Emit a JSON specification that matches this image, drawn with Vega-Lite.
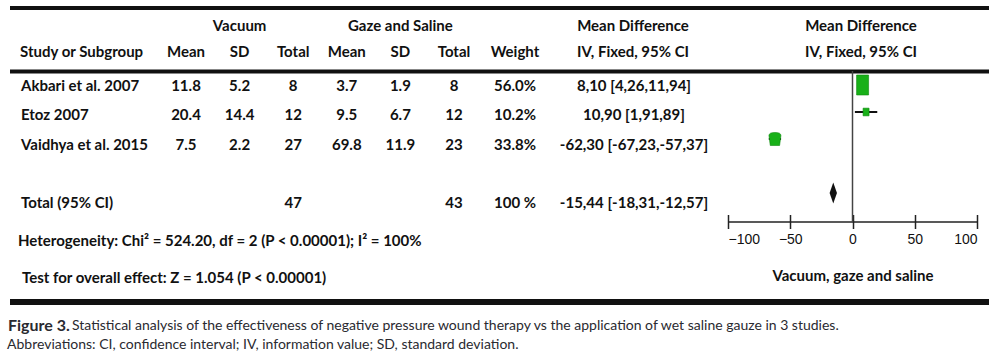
{
  "$schema": "https://vega.github.io/schema/vega-lite/v6.json",
  "width": 979,
  "height": 358,
  "autosize": {"type": "none"},
  "padding": {"left": 10, "right": 9, "top": 0, "bottom": 0},
  "background": "white",
  "config": {
    "view": {"stroke": null},
    "text": {"font": "Lato", "fontSize": 15, "fontWeight": "bold", "color": "#111111", "baseline": "middle"}
  },
  "datasets": {
    "rows": [
      {"study": "Akbari et al. 2007", "vac_mean": 11.8, "vac_sd": 5.2, "vac_n": 8, "gz_mean": 3.7, "gz_sd": 1.9, "gz_n": 8, "weight": 56.0, "weight_label": "56.0%", "md": 8.10, "lo": 4.26, "hi": 11.94, "ci": "8,10 [4,26,11,94]"},
      {"study": "Etoz 2007", "vac_mean": 20.4, "vac_sd": 14.4, "vac_n": 12, "gz_mean": 9.5, "gz_sd": 6.7, "gz_n": 12, "weight": 10.2, "weight_label": "10.2%", "md": 10.90, "lo": 1.91, "hi": 19.89, "ci": "10,90 [1,91,89]"},
      {"study": "Vaidhya et al. 2015", "vac_mean": 7.5, "vac_sd": 2.2, "vac_n": 27, "gz_mean": 69.8, "gz_sd": 11.9, "gz_n": 23, "weight": 33.8, "weight_label": "33.8%", "md": -62.30, "lo": -67.23, "hi": -57.37, "ci": "-62,30 [-67,23,-57,37]"},
      {"study": "Total (95% CI)", "vac_n": 47, "gz_n": 43, "weight": 100, "weight_label": "100 %", "md": -15.44, "lo": -18.31, "hi": -12.57, "ci": "-15,44 [-18,31,-12,57]"}
    ],
    "headers": [
      {"row": "group", "col": "vac_sd", "text": "Vacuum"},
      {"row": "group", "col": "gz_sd", "text": "Gaze and Saline"},
      {"row": "group", "col": "ci", "text": "Mean Difference"},
      {"row": "group", "col": "forest", "text": "Mean Difference"},
      {"row": "column", "col": "study", "text": "Study or Subgroup"},
      {"row": "column", "col": "vac_mean", "text": "Mean"},
      {"row": "column", "col": "vac_sd", "text": "SD"},
      {"row": "column", "col": "vac_n", "text": "Total"},
      {"row": "column", "col": "gz_mean", "text": "Mean"},
      {"row": "column", "col": "gz_sd", "text": "SD"},
      {"row": "column", "col": "gz_n", "text": "Total"},
      {"row": "column", "col": "weight_label", "text": "Weight"},
      {"row": "column", "col": "ci", "text": "IV, Fixed, 95% CI"},
      {"row": "column", "col": "forest", "text": "IV, Fixed, 95% CI"}
    ],
    "notes": [
      {"line": "het", "text": "Heterogeneity: Chi² = 524.20, df = 2 (P < 0.00001); I² = 100%"},
      {"line": "test", "text": "Test for overall effect: Z = 1.054 (P < 0.00001)"}
    ],
    "caption": [
      {"line": "1", "part": "label", "text": "Figure 3."},
      {"line": "1", "part": "body", "text": "Statistical analysis of the effectiveness of negative pressure wound therapy vs the application of wet saline gauze in 3 studies."},
      {"line": "2", "part": "body", "text": "Abbreviations: CI, confidence interval; IV, information value; SD, standard deviation."}
    ],
    "lines": [
      {"line": "top"}, {"line": "header"}, {"line": "bottom"}, {"line": "zero"}
    ]
  },
  "resolve": {"scale": {"x": "independent", "y": "independent", "size": "independent", "shape": "independent"}},
  "layer": [
    {
      "data": {"name": "lines"},
      "transform": [{"filter": {"field": "line", "oneOf": ["top", "header"]}}],
      "mark": {"type": "rule", "strokeWidth": 3.8, "color": "#111111"},
      "encoding": {
        "y": {"field": "line", "type": "nominal", "scale": {"type": "point", "domain": ["top", "header"], "range": [8, 71.5], "padding": 0}, "axis": null}
      }
    },
    {
      "data": {"name": "lines"},
      "transform": [{"filter": {"field": "line", "equal": "bottom"}}],
      "mark": {"type": "rule", "strokeWidth": 6, "color": "#111111"},
      "encoding": {
        "y": {"field": "line", "type": "nominal", "scale": {"type": "point", "domain": ["bottom"], "range": [302, 302], "padding": 0}, "axis": null}
      }
    },
    {
      "data": {"name": "headers"},
      "transform": [{"filter": {"field": "col", "oneOf": ["vac_mean", "vac_sd", "vac_n", "gz_mean", "gz_sd", "gz_n"]}}],
      "mark": {"type": "text"},
      "encoding": {
        "x": {"field": "col", "type": "nominal", "scale": {"type": "point", "domain": ["vac_mean", "vac_sd", "vac_n", "gz_mean", "gz_sd", "gz_n"], "range": [176, 444], "padding": 0}, "axis": null},
        "y": {"field": "row", "type": "nominal", "scale": {"type": "point", "domain": ["group", "column"], "range": [26, 52], "padding": 0}, "axis": null},
        "text": {"field": "text", "type": "nominal"}
      }
    },
    {
      "data": {"name": "headers"},
      "transform": [{"filter": {"field": "col", "oneOf": ["weight_label", "ci"]}}],
      "mark": {"type": "text"},
      "encoding": {
        "x": {"field": "col", "type": "nominal", "scale": {"type": "point", "domain": ["weight_label", "ci"], "range": [505, 623], "padding": 0}, "axis": null},
        "y": {"field": "row", "type": "nominal", "scale": {"type": "point", "domain": ["group", "column"], "range": [26, 52], "padding": 0}, "axis": null},
        "text": {"field": "text", "type": "nominal"}
      }
    },
    {
      "data": {"name": "headers"},
      "transform": [{"filter": {"field": "col", "equal": "forest"}}],
      "mark": {"type": "text"},
      "encoding": {
        "x": {"field": "col", "type": "nominal", "scale": {"type": "point", "domain": ["forest"], "range": [851, 851], "padding": 0}, "axis": null},
        "y": {"field": "row", "type": "nominal", "scale": {"type": "point", "domain": ["group", "column"], "range": [26, 52], "padding": 0}, "axis": null},
        "text": {"field": "text", "type": "nominal"}
      }
    },
    {
      "data": {"name": "headers"},
      "transform": [{"filter": {"field": "col", "equal": "study"}}],
      "mark": {"type": "text", "align": "left"},
      "encoding": {
        "x": {"field": "col", "type": "nominal", "scale": {"type": "point", "domain": ["study"], "range": [10, 10], "padding": 0}, "axis": null},
        "y": {"field": "row", "type": "nominal", "scale": {"type": "point", "domain": ["group", "column"], "range": [26, 52], "padding": 0}, "axis": null},
        "text": {"field": "text", "type": "nominal"}
      }
    },
    {
      "data": {"name": "rows"},
      "transform": [
        {"fold": ["study"], "as": ["key", "value"]}
      ],
      "mark": {"type": "text", "align": "left"},
      "encoding": {
        "x": {"field": "key", "type": "nominal", "scale": {"type": "point", "domain": ["study"], "range": [11, 11], "padding": 0}, "axis": null},
        "y": {"field": "study", "type": "nominal", "scale": {"type": "point", "domain": ["Akbari et al. 2007", "Etoz 2007", "Vaidhya et al. 2015", " ", "Total (95% CI)"], "range": [86, 203], "padding": 0}, "axis": null},
        "text": {"field": "value", "type": "nominal"}
      }
    },
    {
      "data": {"name": "rows"},
      "transform": [
        {"fold": ["vac_mean", "vac_sd", "vac_n", "gz_mean", "gz_sd", "gz_n"], "as": ["key", "value"]},
        {"filter": "isValid(datum.value)"}
      ],
      "mark": {"type": "text"},
      "encoding": {
        "x": {"field": "key", "type": "nominal", "scale": {"type": "point", "domain": ["vac_mean", "vac_sd", "vac_n", "gz_mean", "gz_sd", "gz_n"], "range": [176, 444], "padding": 0}, "axis": null},
        "y": {"field": "study", "type": "nominal", "scale": {"type": "point", "domain": ["Akbari et al. 2007", "Etoz 2007", "Vaidhya et al. 2015", " ", "Total (95% CI)"], "range": [86, 203], "padding": 0}, "axis": null},
        "text": {"field": "value", "type": "nominal"}
      }
    },
    {
      "data": {"name": "rows"},
      "transform": [
        {"fold": ["weight_label", "ci"], "as": ["key", "value"]}
      ],
      "mark": {"type": "text"},
      "encoding": {
        "x": {"field": "key", "type": "nominal", "scale": {"type": "point", "domain": ["weight_label", "ci"], "range": [505, 624], "padding": 0}, "axis": null},
        "y": {"field": "study", "type": "nominal", "scale": {"type": "point", "domain": ["Akbari et al. 2007", "Etoz 2007", "Vaidhya et al. 2015", " ", "Total (95% CI)"], "range": [86, 203], "padding": 0}, "axis": null},
        "text": {"field": "value", "type": "nominal"}
      }
    },
    {
      "data": {"name": "notes"},
      "mark": {"type": "text", "align": "left"},
      "encoding": {
        "x": {"field": "line", "type": "nominal", "scale": {"type": "point", "domain": ["het", "test"], "range": [8, 12], "padding": 0}, "axis": null},
        "y": {"field": "line", "type": "nominal", "scale": {"type": "point", "domain": ["het", "test"], "range": [241, 278], "padding": 0}, "axis": null},
        "text": {"field": "text", "type": "nominal"}
      }
    },
    {
      "data": {"name": "caption"},
      "transform": [{"filter": {"field": "part", "equal": "label"}}],
      "mark": {"type": "text", "align": "left", "fontSize": 16, "fontWeight": "bold", "color": "#2a2a30"},
      "encoding": {
        "x": {"field": "line", "type": "nominal", "scale": {"type": "point", "domain": ["1"], "range": [-2, -2], "padding": 0}, "axis": null},
        "y": {"field": "line", "type": "nominal", "scale": {"type": "point", "domain": ["1", "2"], "range": [326, 345], "padding": 0}, "axis": null},
        "text": {"field": "text", "type": "nominal"}
      }
    },
    {
      "data": {"name": "caption"},
      "transform": [{"filter": {"field": "part", "equal": "body"}}],
      "mark": {"type": "text", "align": "left", "fontSize": 14, "fontWeight": "normal", "color": "#2a2a30"},
      "encoding": {
        "x": {"field": "line", "type": "nominal", "scale": {"type": "point", "domain": ["1", "2"], "range": [62, -3], "padding": 0}, "axis": null},
        "y": {"field": "line", "type": "nominal", "scale": {"type": "point", "domain": ["1", "2"], "range": [326, 345], "padding": 0}, "axis": null},
        "text": {"field": "text", "type": "nominal"}
      }
    },
    {
      "data": {"name": "lines"},
      "transform": [{"filter": {"field": "line", "equal": "zero"}}],
      "mark": {"type": "rule", "color": "#444444", "strokeWidth": 1.5, "yOffset": -14, "y2Offset": 29},
      "encoding": {
        "x": {"datum": 0, "type": "quantitative", "scale": {"type": "linear", "domain": [-100, 100], "range": [718, 967], "nice": false, "zero": false}, "axis": null},
        "y": {"datum": "Akbari et al. 2007", "type": "nominal", "scale": {"type": "point", "domain": ["Akbari et al. 2007", "Etoz 2007", "Vaidhya et al. 2015", " ", "Total (95% CI)"], "range": [85, 193], "padding": 0}, "axis": null},
        "y2": {"datum": "Total (95% CI)"}
      }
    },
    {
      "data": {"name": "rows"},
      "transform": [{"filter": {"not": {"field": "study", "equal": "Total (95% CI)"}}}],
      "mark": {"type": "rule", "color": "#111111", "strokeWidth": 2},
      "encoding": {
        "x": {"field": "lo", "type": "quantitative", "scale": {"type": "linear", "domain": [-100, 100], "range": [718, 967], "nice": false, "zero": false},
              "axis": {"orient": "bottom", "offset": -136.5, "values": [-100, -50, 0, 50, 100], "tickSize": -7, "tickWidth": 1.5, "tickColor": "#222222", "labels": false, "domain": false, "title": null, "grid": false}},
        "x2": {"field": "hi"},
        "y": {"field": "study", "type": "nominal", "scale": {"type": "point", "domain": ["Akbari et al. 2007", "Etoz 2007", "Vaidhya et al. 2015", " ", "Total (95% CI)"], "range": [85, 193], "padding": 0}, "axis": null}
      }
    },
    {
      "data": {"name": "rows"},
      "transform": [{"filter": {"not": {"field": "study", "equal": "Total (95% CI)"}}}],
      "mark": {"type": "point", "filled": true, "fill": "#18b018", "stroke": "#0d8a0d", "strokeWidth": 0.6, "opacity": 1},
      "encoding": {
        "x": {"field": "md", "type": "quantitative", "scale": {"type": "linear", "domain": [-100, 100], "range": [718, 967], "nice": false, "zero": false},
              "axis": {"orient": "bottom", "offset": -136.5, "values": [-100, -50, 0, 50, 100], "tickSize": 7, "tickWidth": 1.5, "tickColor": "#222222", "domainColor": "#222222", "domainWidth": 1.5, "labelFont": "Liberation Sans", "labelFontSize": 14, "labelColor": "#111111", "labelFlush": true, "labelPadding": 4, "labelOverlap": false, "title": "Vacuum, gaze and saline", "titleFont": "Lato", "titleFontSize": 15, "titleFontWeight": "bold", "titleColor": "#111111", "titlePadding": 22, "grid": false}},
        "y": {"field": "study", "type": "nominal", "scale": {"type": "point", "domain": ["Akbari et al. 2007", "Etoz 2007", "Vaidhya et al. 2015", " ", "Total (95% CI)"], "range": [85, 193], "padding": 0}, "axis": null},
        "shape": {"field": "study", "type": "nominal", "scale": {"domain": ["Akbari et al. 2007", "Etoz 2007", "Vaidhya et al. 2015"], "range": ["M-0.6,-1L0.6,-1L0.6,1L-0.6,1Z", "M-0.7,-0.9L0.7,-0.9L0.7,0.9L-0.7,0.9Z", "M-0.6,0.84L-0.77,-0.45Q-0.77,-0.84 0,-0.84Q0.77,-0.84 0.77,-0.45L0.6,0.84Z"]}, "legend": null},
        "size": {"field": "weight", "type": "quantitative", "scale": {"domain": [0, 56], "range": [0, 400]}, "legend": null}
      }
    },
    {
      "data": {"name": "rows"},
      "transform": [{"filter": {"field": "study", "equal": "Total (95% CI)"}}],
      "mark": {"type": "point", "filled": true, "fill": "#111111", "strokeWidth": 0, "opacity": 1, "size": 441, "shape": "M0,-1L0.35,0L0,1L-0.35,0Z"},
      "encoding": {
        "x": {"field": "md", "type": "quantitative", "scale": {"type": "linear", "domain": [-100, 100], "range": [718, 967], "nice": false, "zero": false}, "axis": null},
        "y": {"field": "study", "type": "nominal", "scale": {"type": "point", "domain": ["Akbari et al. 2007", "Etoz 2007", "Vaidhya et al. 2015", " ", "Total (95% CI)"], "range": [85, 193], "padding": 0}, "axis": null}
      }
    }
  ]
}
